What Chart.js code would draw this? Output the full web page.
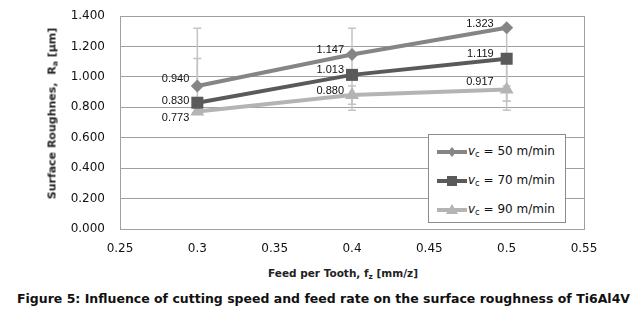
<!DOCTYPE html>
<html>
<head>
<meta charset="utf-8">
<script src="https://cdn.jsdelivr.net/npm/chart.js@4/dist/chart.umd.min.js"></script>
<style>
body{margin:0;background:#fff;font-family:"DejaVu Sans",sans-serif;}
#wrap{position:relative;width:637px;height:314px;overflow:hidden;}
#grafica{position:absolute;left:0;top:0;}
.tituloX{position:absolute;left:0;width:686px;top:267px;text-align:center;font-weight:bold;font-size:10.5px;color:#222;}
.tituloY{position:absolute;left:52px;top:114px;width:200px;margin-left:-100px;margin-top:-7px;text-align:center;font-weight:bold;font-size:11px;color:#222;transform:rotate(-90deg);white-space:nowrap;}
.caption{position:absolute;left:0;width:647px;top:291px;text-align:center;font-weight:bold;font-size:12.5px;color:#111;white-space:nowrap;}
sub{font-size:70%;vertical-align:-2px;line-height:0;}
#leyenda{position:absolute;left:428px;top:134px;width:136px;height:87px;border:1px solid #8c8c8c;background:#fff;font-size:12px;color:#111;}
#leyenda .item{position:absolute;left:8px;height:20px;line-height:20px;white-space:nowrap;}
#leyenda svg{vertical-align:middle;}
</style>
</head>
<body>
<div id="wrap">
<canvas id="grafica" width="637" height="262"></canvas>
<div class="tituloY">Surface Roughnes,&nbsp; R<sub>a</sub> [µm]</div>
<div class="tituloX">Feed per Tooth, f<sub>z</sub> [mm/z]</div>
<div class="caption">Figure 5: Influence of cutting speed and feed rate on the surface roughness of Ti6Al4V</div>
<div id="leyenda"></div>
</div>
<script>
// datos
var FEED=[0.3,0.4,0.5];
var RA_50=[0.940,1.147,1.323];
var RA_70=[0.830,1.013,1.119];
var RA_90=[0.773,0.880,0.917];
// barras de error (limite inferior / superior)
var ERR_50_BAJO=[0.940,0.780,0.780];
var ERR_50_ALTO=[1.320,1.320,1.323];
var ERR_70_BAJO=[0.830,1.013,0.840];
var ERR_70_ALTO=[1.120,1.013,1.119];
var ERR_90_BAJO=[0.773,0.820,0.840];
var ERR_90_ALTO=[0.773,0.940,0.940];
var ETIQUETAS=["v_c = 50 m/min","v_c = 70 m/min","v_c = 90 m/min"];
var X_MIN=0.25,X_MAX=0.55,X_PASO=0.05;
var Y_MIN=0,Y_MAX=1.4,Y_PASO=0.2;

var COLORES=["#858585","#5a5a5a","#b4b4b4"];
var MARCAS=["rectRot","rect","triangle"];
var RADIOS=[6.5,8.5,8];
// desplazamiento de las etiquetas de valor
var POS_ETIQ=[[[-8,-7],[-8,-5],[-13,-4]],[[-8,-2],[-8,-5],[-13,-5]],[[-8,7],[-8,-4],[-13,-8]]];

function puntos(valores){
	var arr=new Array();
	for(var i=0;i<FEED.length;i++){
		arr.push({x:FEED[i],y:valores[i]});
	}
	return arr;
}

var series=[RA_50,RA_70,RA_90];
var errores=[[ERR_50_BAJO,ERR_50_ALTO],[ERR_70_BAJO,ERR_70_ALTO],[ERR_90_BAJO,ERR_90_ALTO]];
var DATASETS=new Array();
for(var i=0;i<series.length;i++){
	var DATASET=new Object();
	DATASET.label=ETIQUETAS[i];
	DATASET.data=puntos(series[i]);
	DATASET.borderColor=COLORES[i];
	DATASET.backgroundColor=COLORES[i];
	DATASET.borderWidth=4;
	DATASET.pointStyle=MARCAS[i];
	DATASET.pointRadius=RADIOS[i];
	DATASET.pointBorderWidth=0;
	DATASET.pointHoverRadius=RADIOS[i];
	DATASET.tension=0;
	DATASET.errores=errores[i];
	DATASET.posEtiq=POS_ETIQ[i];
	DATASETS.push(DATASET);
}

var barrasError={
	id:'barrasError',
	beforeDatasetsDraw:function(chart){
		var ctx=chart.ctx,xs=chart.scales.x,ys=chart.scales.y;
		ctx.save();
		ctx.strokeStyle="#c4c4c4";
		ctx.lineWidth=1.5;
		chart.data.datasets.forEach(function(ds){
			for(var j=0;j<FEED.length;j++){
				var bajo=ds.errores[0][j],alto=ds.errores[1][j];
				if(bajo==alto) continue;
				var px=xs.getPixelForValue(FEED[j]);
				var y1=ys.getPixelForValue(bajo),y2=ys.getPixelForValue(alto);
				ctx.beginPath();
				ctx.moveTo(px,y1);ctx.lineTo(px,y2);
				if(bajo!=ds.data[j].y){ctx.moveTo(px-4,y1);ctx.lineTo(px+4,y1);}
				if(alto!=ds.data[j].y){ctx.moveTo(px-4,y2);ctx.lineTo(px+4,y2);}
				ctx.stroke();
			}
		});
		ctx.restore();
	}
};

var etiquetasValor={
	id:'etiquetasValor',
	afterDatasetsDraw:function(chart){
		var ctx=chart.ctx;
		ctx.save();
		ctx.font='11px "Liberation Sans", Arial, sans-serif';
		ctx.fillStyle="#111";
		ctx.textAlign="right";
		ctx.textBaseline="middle";
		chart.data.datasets.forEach(function(ds,i){
			var meta=chart.getDatasetMeta(i);
			meta.data.forEach(function(pt,j){
				var off=ds.posEtiq[j];
				ctx.fillText(ds.data[j].y.toFixed(3),pt.x+off[0],pt.y+off[1]);
			});
		});
		ctx.restore();
	}
};

var config={
	type:'line',
	data:{datasets:DATASETS},
	options:{
		responsive:false,
		animation:false,
		devicePixelRatio:1,
		layout:{padding:{left:0,right:53,top:16,bottom:0}},
		plugins:{legend:{display:false},tooltip:{enabled:false}},
		scales:{
			x:{
				type:'linear',min:X_MIN,max:X_MAX,
				afterFit:function(s){s.height=33;s.paddingLeft=0;s.paddingRight=0;},
				grid:{drawTicks:false,color:function(c){return (c.index===0||c.index===6)?"#a0a0a0":"rgba(0,0,0,0)";}},
				border:{color:"#a0a0a0"},
				ticks:{stepSize:X_PASO,padding:13,color:"#111",font:{family:"DejaVu Sans",size:12},
					callback:function(v){return String(Number(v.toFixed(2)));}}
			},
			y:{
				min:Y_MIN,max:Y_MAX,
				afterFit:function(s){s.width=120;s.paddingTop=0;s.paddingBottom=0;},
				grid:{drawTicks:false,color:"#a0a0a0"},
				border:{color:"#a0a0a0"},
				ticks:{stepSize:Y_PASO,padding:15,color:"#111",font:{family:"DejaVu Sans",size:12},
					callback:function(v){return v.toFixed(3);}}
			}
		}
	},
	plugins:[barrasError,etiquetasValor]
};
new Chart(document.getElementById("grafica").getContext("2d"),config);

// leyenda en html por los subindices
function muestra(i){
	var c=COLORES[i],m='';
	if(i==0) m='<polygon points="15,5 19,10 15,15 11,10" fill="'+c+'"/>';
	if(i==1) m='<rect x="10" y="5" width="10" height="10" fill="'+c+'"/>';
	if(i==2) m='<polygon points="15,4 21,14 9,14" fill="'+c+'"/>';
	return '<svg width="31" height="20"><line x1="0" y1="10" x2="30" y2="10" stroke="'+c+'" stroke-width="4"/>'+m+'</svg>';
}
var html='';
for(var i=0;i<ETIQUETAS.length;i++){
	var partes=ETIQUETAS[i].split(" = ");
	html+='<div class="item" style="top:'+(6+i*29)+'px">'+muestra(i)+'<i>v</i><sub>c</sub> = '+partes[1]+'</div>';
}
document.getElementById("leyenda").innerHTML=html;
</script>
</body>
</html>
